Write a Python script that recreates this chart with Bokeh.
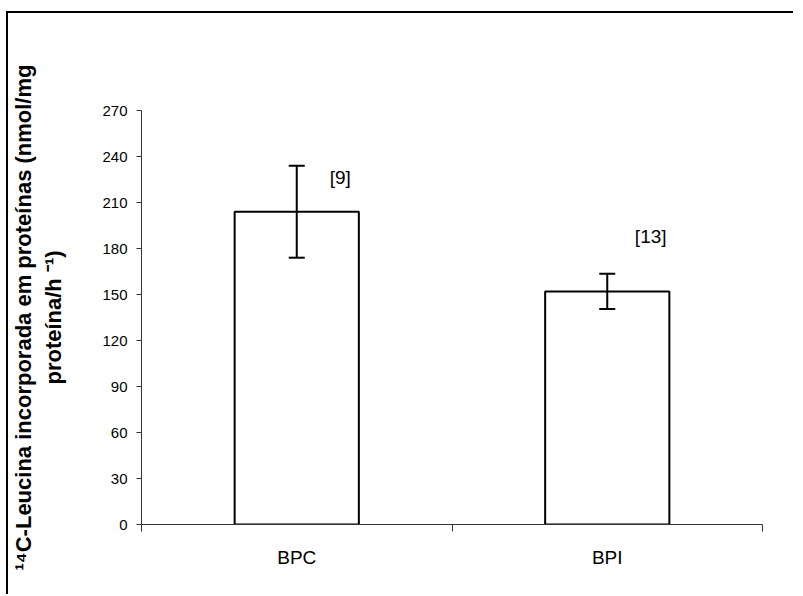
from bokeh.plotting import figure
from bokeh.models import Range1d, FixedTicker, Whisker, ColumnDataSource, TeeHead
from bokeh.core.properties import value
from bokeh.embed import file_html
from bokeh.resources import INLINE

categories = ["BPC", "BPI"]
means = [204, 152]
errors = [30, 11.5]
n_labels = ["[9]", "[13]"]
n_label_y = [226, 188]
y_ticks = [0, 30, 60, 90, 120, 150, 180, 210, 240, 270]

xs = [i + 0.5 for i in range(len(categories))]
src = ColumnDataSource(dict(
    x=xs, top=means,
    upper=[m + e for m, e in zip(means, errors)],
    lower=[m - e for m, e in zip(means, errors)],
    lx=[x + 0.14 for x in xs], ly=n_label_y, lt=n_labels,
))

p = figure(width=787, height=583, output_backend="svg", toolbar_location=None,
           x_range=Range1d(0, len(categories)), y_range=Range1d(0, 270),
           min_border_left=129, min_border_right=33, min_border_top=97, min_border_bottom=72,
           styles={"border-top": "2px solid black", "border-left": "2px solid black",
                   "margin-left": "6px", "margin-top": "11px"})
p.outline_line_color = None
p.xgrid.visible = False
p.ygrid.visible = False
p.background_fill_color = "white"
p.border_fill_color = "white"

p.vbar(x="x", top="top", bottom=0, width=0.4, source=src,
       fill_color="white", line_color="black", line_width=2)

w = Whisker(base="x", upper="upper", lower="lower", source=src, level="overlay",
            line_color="black", line_width=2,
            upper_head=TeeHead(size=16, line_color="black", line_width=2),
            lower_head=TeeHead(size=16, line_color="black", line_width=2))
p.add_layout(w)

p.text(x="lx", y="ly", text="lt", source=src, text_align="center", text_baseline="middle",
       text_font=value("Liberation Sans"), text_font_size="19px", text_color="black")

# y axis
ya = p.yaxis[0]
ya.ticker = FixedTicker(ticks=y_ticks)
ya.major_tick_out = 5
ya.major_tick_in = 0
ya.minor_tick_line_color = None
ya.axis_line_color = "#333333"
ya.major_tick_line_color = "#333333"
ya.major_label_text_font = "Liberation Sans"
ya.major_label_text_font_size = "15px"
ya.major_label_text_color = "black"
ya.major_label_standoff = 9
ya.axis_label = "\u00b9\u2074C-Leucina incorporada em prote\u00ednas (nmol/mg\nprote\u00edna/h \u207b\u00b9)"
ya.axis_label_text_font = "Liberation Sans"
ya.axis_label_text_font_style = "bold"
ya.axis_label_text_font_size = "22px"
ya.axis_label_text_color = "black"
ya.axis_label_standoff = 33

# x axis
xa = p.xaxis[0]
xa.ticker = FixedTicker(ticks=xs, minor_ticks=list(range(len(categories) + 1)))
xa.major_label_overrides = {x: c for x, c in zip(xs, categories)}
xa.major_tick_line_color = None
xa.minor_tick_out = 7
xa.minor_tick_in = 0
xa.minor_tick_line_color = "#333333"
xa.axis_line_color = "#333333"
xa.major_label_text_font = "Liberation Sans"
xa.major_label_text_font_size = "19px"
xa.major_label_text_color = "black"
xa.major_label_standoff = 15

open("out.html", "w").write(file_html(p, INLINE))
